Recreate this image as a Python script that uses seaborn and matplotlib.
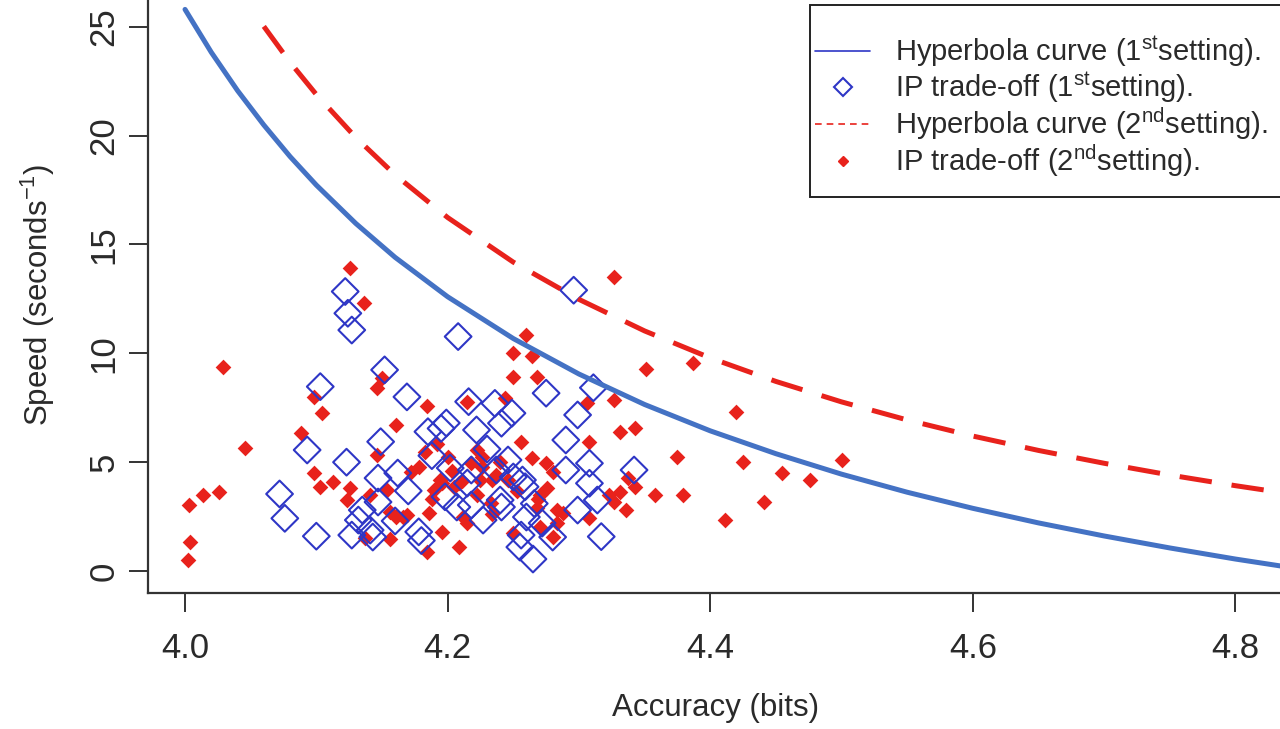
import matplotlib
matplotlib.use("Agg")
import matplotlib.pyplot as plt
from matplotlib.lines import Line2D
from matplotlib.patches import Rectangle
import seaborn as sns
import pandas as pd

# ---- Data ----
# Hyperbola curve, 1st setting
curve1_x = [4.00, 4.02, 4.04, 4.06, 4.08, 4.10, 4.13, 4.16, 4.20, 4.25, 4.30,
            4.35, 4.40, 4.45, 4.50, 4.55, 4.60, 4.65, 4.70, 4.75, 4.80, 4.84]
curve1_y = [25.80, 23.83, 22.07, 20.49, 19.04, 17.73, 15.97, 14.41, 12.60, 10.68, 9.05,
            7.65, 6.44, 5.39, 4.45, 3.62, 2.88, 2.21, 1.61, 1.06, 0.55, 0.18]

# Hyperbola curve, 2nd setting
curve2_x = [4.06, 4.08, 4.10, 4.13, 4.16, 4.20, 4.25, 4.30, 4.35, 4.40, 4.45,
            4.50, 4.55, 4.60, 4.65, 4.70, 4.75, 4.80, 4.84]
curve2_y = [25.02, 23.37, 21.89, 19.92, 18.20, 16.24, 14.19, 12.48, 11.03, 9.79, 8.71,
            7.77, 6.94, 6.20, 5.54, 4.95, 4.41, 3.92, 3.56]

# IP trade-off, 1st setting (open blue diamonds)
ip1_acc = [4.072, 4.076, 4.100, 4.093, 4.103, 4.122, 4.124, 4.127, 4.123, 4.127,
           4.132, 4.135, 4.147, 4.162, 4.147, 4.141, 4.143, 4.149, 4.152, 4.169,
           4.170, 4.178, 4.180, 4.185, 4.195, 4.199, 4.222, 4.241, 4.202, 4.215,
           4.218, 4.237, 4.250, 4.257, 4.259, 4.198, 4.207, 4.218, 4.240, 4.241,
           4.227, 4.256, 4.255, 4.265, 4.260, 4.272, 4.280, 4.208, 4.216, 4.236,
           4.249, 4.275, 4.296, 4.311, 4.299, 4.290, 4.308, 4.308, 4.290, 4.342,
           4.299, 4.317, 4.314, 4.188, 4.230, 4.266, 4.160, 4.246]
ip1_speed = [3.54, 2.42, 1.60, 5.56, 8.47, 12.84, 11.84, 11.07, 5.00, 1.65,
             2.34, 2.80, 4.27, 4.50, 3.17, 1.88, 1.56, 5.94, 9.24, 8.00,
             3.68, 1.80, 1.40, 6.40, 6.55, 6.80, 6.48, 6.79, 4.73, 4.04,
             4.64, 4.64, 4.32, 4.18, 3.87, 3.41, 2.94, 3.03, 3.26, 2.94,
             2.34, 1.65, 1.10, 0.55, 2.48, 2.20, 1.56, 10.77, 7.78, 7.70,
             7.25, 8.17, 12.90, 8.42, 7.17, 6.02, 4.95, 4.03, 4.64, 4.64,
             2.80, 1.58, 3.26, 5.30, 5.60, 3.10, 2.30, 5.10]

# IP trade-off, 2nd setting (filled red diamonds)
ip2_acc = [4.002, 4.004, 4.003, 4.014, 4.026, 4.029, 4.046, 4.088, 4.098, 4.098,
           4.104, 4.103, 4.113, 4.126, 4.123, 4.126, 4.136, 4.150, 4.146, 4.146,
           4.141, 4.154, 4.161, 4.161, 4.166, 4.137, 4.156, 4.156, 4.184, 4.215,
           4.244, 4.260, 4.250, 4.264, 4.250, 4.268, 4.183, 4.192, 4.200, 4.222,
           4.226, 4.226, 4.256, 4.264, 4.275, 4.172, 4.178, 4.194, 4.196, 4.190,
           4.209, 4.211, 4.225, 4.234, 4.237, 4.246, 4.253, 4.270, 4.276, 4.269,
           4.222, 4.233, 4.186, 4.169, 4.212, 4.215, 4.234, 4.268, 4.184, 4.209,
           4.196, 4.250, 4.270, 4.280, 4.283, 4.283, 4.288, 4.280, 4.308, 4.308,
           4.306, 4.323, 4.331, 4.327, 4.336, 4.337, 4.343, 4.331, 4.343, 4.327,
           4.327, 4.351, 4.358, 4.375, 4.379, 4.387, 4.411, 4.420, 4.425, 4.441,
           4.455, 4.476, 4.500, 4.205, 4.218, 4.188, 4.240, 4.203]
ip2_speed = [0.50, 1.35, 3.03, 3.50, 3.64, 9.36, 5.64, 6.33, 4.52, 8.00,
             7.25, 3.87, 4.10, 3.80, 3.26, 13.90, 12.30, 8.86, 8.40, 5.33,
             3.49, 3.72, 6.70, 2.50, 2.48, 1.50, 1.45, 2.70, 7.60, 7.78,
             7.94, 10.85, 10.00, 9.87, 8.93, 8.93, 5.48, 5.85, 5.25, 5.56,
             5.25, 4.79, 5.94, 5.19, 4.96, 4.56, 4.76, 4.18, 4.04, 3.72,
             4.04, 4.15, 4.18, 4.18, 4.41, 4.18, 3.68, 3.49, 3.80, 3.30,
             3.49, 3.11, 2.67, 2.57, 2.48, 2.20, 2.60, 2.90, 0.87, 1.10,
             1.79, 1.75, 2.02, 1.56, 2.80, 2.19, 2.65, 4.56, 2.42, 5.94,
             7.70, 3.49, 3.64, 3.18, 2.80, 4.26, 3.87, 6.40, 6.55, 7.86,
             13.50, 9.30, 3.49, 5.25, 3.49, 9.54, 2.34, 7.32, 5.02, 3.18,
             4.49, 4.18, 5.10, 3.85, 4.95, 3.30, 5.00, 4.60]

x_ticks = [4.0, 4.2, 4.4, 4.6, 4.8]
x_tick_labels = ["4.0", "4.2", "4.4", "4.6", "4.8"]
y_ticks = [0, 5, 10, 15, 20, 25]
y_tick_labels = ["0", "5", "10", "15", "20", "25"]

legend_labels = [
    r"Hyperbola curve (1$^{\mathrm{st}}$setting).",
    r"IP trade-off (1$^{\mathrm{st}}$setting).",
    r"Hyperbola curve (2$^{\mathrm{nd}}$setting).",
    r"IP trade-off (2$^{\mathrm{nd}}$setting).",
]

# ---- Styling ----
sns.set_style("white")
plt.rcParams["font.family"] = ["Liberation Sans", "DejaVu Sans"]
plt.rcParams["mathtext.fontset"] = "custom"
plt.rcParams["mathtext.rm"] = "Liberation Sans"
plt.rcParams["mathtext.it"] = "Liberation Sans:italic"
plt.rcParams["mathtext.bf"] = "Liberation Sans:bold"

BLUE_LINE = "#4472c4"
BLUE_MARK = "#2e36c6"
RED = "#e8221c"
TEXT = "#2a2a2a"

fig = plt.figure(figsize=(12.8, 7.29), dpi=100)
W, H = 1280, 729
left, right, top, bottom = 148, 1284, -3, 593
ax = fig.add_axes([left / W, (H - bottom) / H, (right - left) / W, (bottom - top) / H])

df1 = pd.DataFrame({"x": curve1_x, "y": curve1_y})
df2 = pd.DataFrame({"x": curve2_x, "y": curve2_y})
dp1 = pd.DataFrame({"acc": ip1_acc, "speed": ip1_speed})
dp2 = pd.DataFrame({"acc": ip2_acc, "speed": ip2_speed})

sns.lineplot(data=df1, x="x", y="y", ax=ax, color=BLUE_LINE, linewidth=3.6,
             sort=False, estimator=None, zorder=3)
sns.lineplot(data=df2, x="x", y="y", ax=ax, color=RED, linewidth=3.6,
             linestyle=(0, (6.5, 4)), sort=False, estimator=None, zorder=3)
sns.scatterplot(data=dp2, x="acc", y="speed", ax=ax, marker="D", color=RED,
                s=64, linewidth=0, zorder=2)
sns.scatterplot(data=dp1, x="acc", y="speed", ax=ax, marker="D", facecolor="none",
                edgecolor=BLUE_MARK, s=185, linewidth=1.5, zorder=2)

ax.set_xlim(3.9718, 4.8370)
ax.set_ylim(-1.01, 26.37)
ax.set_xticks(x_ticks)
ax.set_xticklabels(x_tick_labels, fontsize=25, color=TEXT)
ax.set_yticks(y_ticks)
ax.set_yticklabels(y_tick_labels, fontsize=25, color=TEXT, rotation=90, va="center")
ax.tick_params(axis="both", direction="out", length=14, width=1.4, color="#333333",
               bottom=True, left=True)
ax.tick_params(axis="x", pad=14)
ax.tick_params(axis="y", pad=6)

ax.set_xlabel("Accuracy (bits)", fontsize=22.5, color=TEXT, labelpad=20)
ax.set_ylabel(r"Speed (seconds$^{-1}$)", fontsize=22.5, color=TEXT, labelpad=22)

for sp in ax.spines.values():
    sp.set_color("#333333")
    sp.set_linewidth(1.6)

# legend frame (box reaching past the right edge, as in the reference)
frame = Rectangle((810 / W, 1 - 197 / H), (1300 - 810) / W, (197 - 5) / H,
                  transform=fig.transFigure, facecolor="white", edgecolor="#222222",
                  linewidth=1.4, zorder=6, clip_on=False)
ax.add_patch(frame)

handles = [
    Line2D([], [], color=BLUE_MARK, lw=1.2),
    Line2D([], [], color=BLUE_MARK, marker="D", markerfacecolor="none",
           markeredgewidth=1.5, markersize=9, lw=0),
    Line2D([], [], color=RED, lw=1.2, linestyle=(0, (4, 3))),
    Line2D([], [], color=RED, marker="D", markersize=5.5, lw=0),
]
leg = ax.legend(handles, legend_labels, loc="upper left",
                bbox_to_anchor=(815 / W, 1 - 34 / H), bbox_transform=fig.transFigure,
                fontsize=21, frameon=False,
                handlelength=1.9, handletextpad=0.85, labelspacing=0.02,
                borderpad=0.0, borderaxespad=0.0)
leg.set_zorder(7)
for t in leg.get_texts():
    t.set_color(TEXT)

fig.savefig("out.png", dpi=100)
